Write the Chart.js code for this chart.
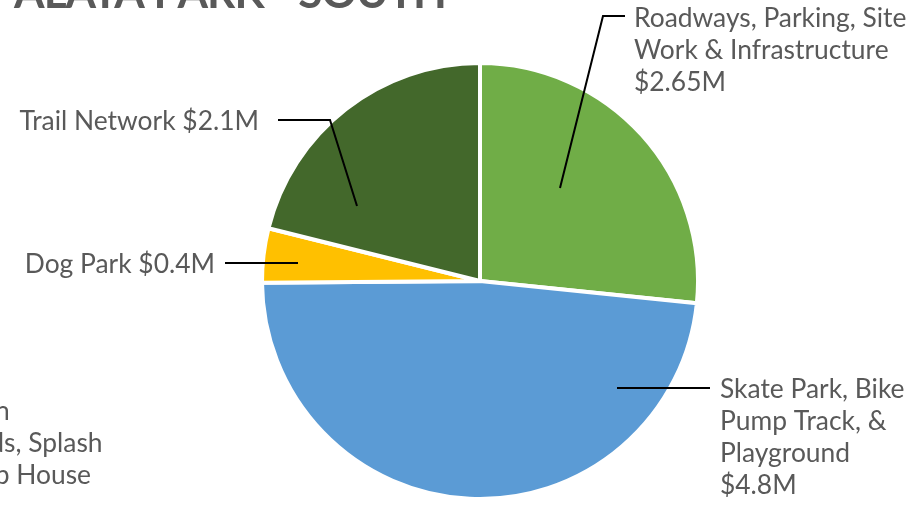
<!DOCTYPE html>
<html>
<head>
<meta charset="utf-8">
<script src="https://cdn.jsdelivr.net/npm/chart.js@4"></script>
<style>
  html, body { margin: 0; padding: 0; background: #fff; }
  #wrap { position: relative; width: 910px; height: 528px; overflow: hidden; }
</style>
</head>
<body>
<div id="wrap"><canvas id="pie" width="910" height="528"></canvas></div>
<script>
// data (millions of dollars)
const categories = [
  'Roadways, Parking, Site Work & Infrastructure',
  'Skate Park, Bike Pump Track, & Playground',
  'Dog Park',
  'Trail Network'
];
const costs = [2.65, 4.8, 0.4, 2.1];
const costLabels = ['$2.65M', '$4.8M', '$0.4M', '$2.1M'];
const sliceColors = ['#70ad47', '#5b9bd5', '#ffc000', '#43682b'];

const titleText = 'PALATA PARK - SOUTH';

// label text lines as they wrap in the picture
const labelLines = [
  ['Roadways, Parking, Site', 'Work & Infrastructure', costLabels[0]],
  ['Skate Park, Bike', 'Pump Track, &', 'Playground', costLabels[1]],
  ['Dog Park ' + costLabels[2]],
  ['Trail Network ' + costLabels[3]]
];
// cut-off label at the lower left edge
const extraLines = ['Observation', 'Sports Fields, Splash', 'Pad & Pump House'];

// callout layout: text anchor + leader polyline
const callouts = [
  { x: 634, y: 18, align: 'left', leader: [[560, 188], [603, 16], [625, 16]] },
  { x: 720, y: 389, align: 'left', leader: [[617, 388], [710, 388]] },
  { x: 215, y: 264, align: 'right', leader: [[298, 263], [225, 263]] },
  { x: 259, y: 121, align: 'right', leader: [[357, 206], [330, 120], [278, 120]] }
];

const FONT = "Lato, 'Open Sans', sans-serif";
const LINE_H = 32;

const calloutPlugin = {
  id: 'callouts',
  afterDraw(chart) {
    const ctx = chart.ctx;
    ctx.save();

    // title (top is cropped in the picture)
    ctx.fillStyle = '#595959';
    ctx.font = 'bold 44px ' + FONT;
    ctx.letterSpacing = '-1px';
    ctx.textAlign = 'right';
    ctx.textBaseline = 'alphabetic';
    ctx.fillText(titleText, 446, 8);
    ctx.letterSpacing = '0px';

    // leaders
    ctx.strokeStyle = '#000';
    ctx.lineWidth = 2;
    callouts.forEach(c => {
      ctx.beginPath();
      c.leader.forEach((p, i) => i ? ctx.lineTo(p[0], p[1]) : ctx.moveTo(p[0], p[1]));
      ctx.stroke();
    });

    // label text
    ctx.font = '26.4px ' + FONT;
    ctx.textBaseline = 'middle';
    labelLines.forEach((lines, i) => {
      const c = callouts[i];
      ctx.textAlign = c.align;
      lines.forEach((t, j) => ctx.fillText(t, c.x, c.y + j * LINE_H));
    });

    ctx.textAlign = 'left';
    const ex = 91 - ctx.measureText(extraLines[2]).width;
    extraLines.forEach((t, j) => ctx.fillText(t, ex, 411 + j * LINE_H));

    ctx.restore();
  }
};

new Chart(document.getElementById('pie'), {
  type: 'pie',
  data: {
    labels: categories,
    datasets: [{
      data: costs,
      backgroundColor: sliceColors,
      borderColor: '#ffffff',
      borderWidth: 4,
      hoverOffset: 0
    }]
  },
  options: {
    responsive: false,
    animation: false,
    layout: { padding: { top: 61, bottom: 27, left: 260, right: 210 } },
    plugins: {
      legend: { display: false },
      tooltip: { enabled: false }
    }
  },
  plugins: [calloutPlugin]
});
</script>
</body>
</html>
